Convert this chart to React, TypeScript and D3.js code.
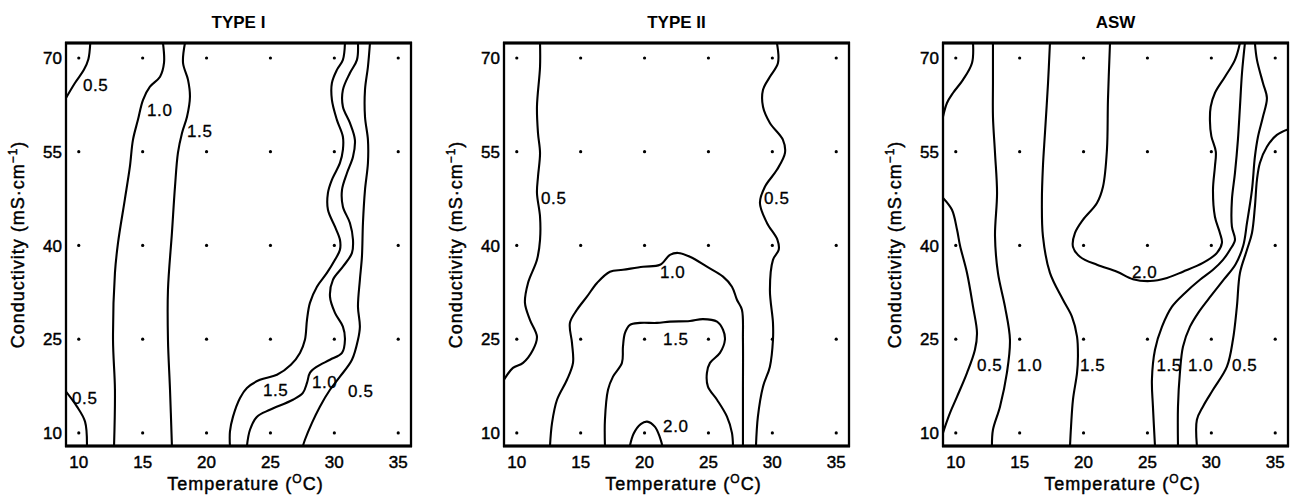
import React from 'react';
import * as d3 from 'd3';

type Pt = [number, number];
type Label = [string, number, number];

// Sampling grid (temperature °C × conductivity mS·cm⁻¹)
const temps = [10, 15, 20, 25, 30, 35];
const conds = [10, 25, 40, 55, 70];
const tempTicks = [10, 15, 20, 25, 30, 35];
const condTicks = [10, 25, 40, 55, 70];
const titles = ['TYPE I', 'TYPE II', 'ASW'];

// ---- TYPE I isolines, [temperature, conductivity] ----
const t1Iso05TopLeft: Pt[] = [[10.9, 72.4], [10.75, 69.8], [10.4, 68.1], [9.7, 66.0], [9.0, 63.6]];
const t1Iso10Left: Pt[] = [[16.59, 72.4], [16.67, 69.2], [16.36, 67.0], [15.57, 65.4], [15.03, 63.3], [14.63, 60.1], [14.24, 56.9], [14.0, 52.6], [13.6, 47.3], [13.07, 40.4], [12.83, 35.6], [12.68, 24.9], [12.83, 16.9], [12.76, 7.9]];
const t1Iso15Left: Pt[] = [[18.31, 72.4], [18.16, 69.2], [18.55, 66.5], [18.7, 63.8], [18.47, 60.6], [18.08, 58.0], [17.76, 54.8], [17.53, 49.4], [17.29, 42.0], [16.98, 32.9], [16.98, 24.9], [17.14, 16.9], [17.29, 7.9]];
const t1Iso05BottomLeft: Pt[] = [[9.0, 16.6], [9.86, 14.2], [10.49, 11.8], [10.64, 7.9]];
const t1Iso15Right: Pt[] = [[30.83, 72.4], [30.67, 69.7], [30.2, 68.1], [29.81, 66.0], [29.81, 63.3], [30.2, 60.1], [30.67, 57.4], [30.67, 55.3], [30.44, 53.2], [29.81, 50.5], [29.5, 48.4], [29.5, 45.7], [30.05, 43.0], [30.44, 40.9], [30.44, 39.3], [30.05, 37.7], [29.42, 35.6], [28.64, 33.4], [28.09, 30.8], [27.86, 28.1], [27.7, 24.9], [27.31, 22.8], [26.6, 20.9], [25.51, 19.3], [24.18, 18.5], [23.16, 17.2], [22.62, 15.6], [22.07, 12.6], [21.83, 10.2], [21.83, 7.9]];
const t1Iso10Right: Pt[] = [[31.85, 72.4], [31.77, 69.7], [31.22, 67.6], [30.67, 64.9], [30.67, 62.2], [31.22, 59.6], [31.61, 56.9], [31.46, 54.2], [30.99, 51.6], [30.6, 48.9], [30.67, 46.2], [31.22, 43.6], [31.46, 40.9], [31.38, 38.8], [30.67, 36.6], [29.89, 34.5], [29.66, 31.8], [30.05, 29.2], [30.67, 27.0], [30.83, 24.9], [30.6, 22.8], [29.66, 21.7], [28.64, 20.6], [28.09, 19.6], [27.86, 18.0], [27.54, 16.4], [26.76, 15.3], [24.96, 13.7], [23.95, 12.6], [23.4, 10.5], [23.16, 7.9]];
const t1Iso05Right: Pt[] = [[32.79, 72.4], [32.63, 68.6], [32.4, 64.9], [32.4, 60.6], [32.63, 56.9], [32.63, 53.2], [32.4, 48.9], [32.24, 43.6], [32.16, 38.2], [32.0, 34.5], [31.85, 30.2], [32.0, 27.0], [31.85, 24.9], [31.38, 21.7], [30.44, 19.0], [29.66, 16.9], [28.87, 14.2], [28.25, 11.6], [27.7, 8.9], [27.54, 7.9]];
const t1Labels: Label[] = [['0.5', 10.33, 65.7], ['1.0', 15.34, 61.7], ['1.5', 18.47, 58.3], ['0.5', 9.47, 15.6], ['1.5', 24.41, 16.9], ['1.0', 28.25, 18.2], ['0.5', 31.07, 16.7]];

// ---- TYPE II isolines ----
const t2Iso05Left: Pt[] = [[11.82, 72.4], [11.82, 68.6], [11.58, 62.2], [11.66, 58.0], [11.82, 54.8], [11.66, 51.0], [11.58, 48.4], [11.82, 44.6], [11.82, 40.9], [11.58, 37.7], [10.88, 34.0], [10.64, 30.8], [11.03, 28.1], [11.58, 25.4], [11.27, 23.3], [10.49, 21.2], [9.7, 20.4], [9.0, 18.5]];
const t2Iso05Right: Pt[] = [[30.36, 72.4], [30.44, 69.2], [29.81, 67.0], [29.27, 64.9], [29.27, 62.2], [29.81, 59.6], [30.83, 56.9], [30.99, 54.8], [30.36, 52.1], [29.42, 49.4], [29.03, 46.8], [29.58, 43.6], [30.4, 40.9], [30.5, 39.3], [30.05, 37.7], [29.81, 32.9], [30.05, 27.6], [30.05, 24.9], [29.81, 20.6], [29.27, 17.4], [28.87, 12.6], [28.72, 7.9]];
const t2Iso10: Pt[] = [[12.6, 7.9], [12.76, 11.6], [13.15, 15.3], [13.93, 18.5], [14.4, 21.2], [14.32, 24.4], [14.16, 27.6], [14.71, 29.7], [15.49, 31.8], [16.28, 34.0], [17.29, 35.8], [18.31, 36.1], [19.88, 36.6], [21.21, 36.9], [21.99, 38.5], [22.62, 38.8], [23.55, 38.2], [24.88, 36.6], [26.14, 35.0], [26.84, 33.4], [27.23, 31.3], [27.62, 29.7], [27.7, 24.9], [27.7, 16.9], [27.7, 7.9]];
const t2Iso15: Pt[] = [[16.9, 7.9], [16.9, 12.1], [17.14, 16.9], [17.53, 19.0], [18.23, 21.2], [18.31, 23.8], [18.47, 26.0], [18.86, 27.3], [19.64, 27.6], [20.97, 27.6], [21.99, 27.8], [23.55, 27.9], [24.57, 28.2], [25.67, 27.8], [26.14, 26.5], [26.29, 24.9], [25.9, 22.8], [25.12, 21.2], [24.88, 19.6], [24.96, 17.4], [25.67, 15.3], [26.45, 12.6], [26.84, 10.0], [26.92, 7.9]];
const t2Iso20: Pt[] = [[18.85, 7.9], [19.15, 9.9], [19.7, 11.4], [20.2, 11.8], [20.8, 11.0], [21.2, 9.3], [21.4, 7.9]];
const t2Labels: Label[] = [['0.5', 11.9, 47.6], ['0.5', 29.35, 47.6], ['1.0', 21.2, 35.8], ['1.5', 21.45, 25.0], ['2.0', 21.45, 11.1]];

// ---- ASW isolines ----
const aswIso05TopLeft: Pt[] = [[11.35, 72.4], [11.27, 69.2], [10.56, 66.5], [9.78, 64.4], [9.31, 62.8], [9.0, 60.6]];
const aswIso05Left: Pt[] = [[9.0, 47.6], [9.7, 45.7], [10.1, 42.5], [10.33, 40.0], [10.88, 35.6], [11.35, 30.2], [11.66, 26.0], [11.5, 23.3], [10.88, 19.6], [10.1, 15.8], [9.55, 13.2], [9.16, 11.0], [9.0, 10.0]];
const aswIso10Left: Pt[] = [[12.91, 72.4], [12.91, 66.0], [12.91, 60.6], [13.07, 54.8], [13.23, 48.4], [13.07, 41.5], [13.3, 35.6], [13.85, 30.2], [14.24, 24.9], [14.0, 19.6], [13.46, 14.2], [12.91, 10.5], [12.83, 7.9]];
const aswIso15Left: Pt[] = [[17.37, 72.4], [17.22, 66.0], [16.98, 58.0], [16.82, 52.6], [16.74, 47.3], [16.82, 41.5], [17.37, 35.6], [18.39, 31.3], [19.09, 28.6], [19.49, 25.4], [19.56, 22.2], [19.49, 19.6], [19.17, 15.3], [19.02, 11.0], [18.94, 7.9]];
const aswIso20: Pt[] = [[22.07, 72.4], [21.91, 63.3], [21.83, 55.3], [21.52, 49.4], [21.05, 46.8], [19.95, 44.1], [19.33, 42.0], [19.17, 39.8], [19.72, 38.2], [21.05, 36.9], [22.62, 35.8], [23.87, 34.6], [25.2, 34.3], [26.53, 34.8], [27.78, 35.8], [29.34, 37.2], [30.44, 38.8], [30.83, 40.4], [30.67, 42.0], [30.28, 44.6], [30.13, 48.9], [30.28, 52.6], [30.35, 55.0], [30.0, 57.5], [29.89, 60.0], [29.95, 62.2], [30.28, 64.4], [31.07, 67.0], [31.85, 69.7], [32.24, 72.4]];
const aswIso15Right: Pt[] = [[32.63, 72.4], [32.4, 67.6], [32.24, 62.2], [32.08, 56.9], [31.85, 51.6], [31.61, 47.3], [31.61, 43.0], [31.85, 40.9], [31.46, 39.3], [30.91, 37.7], [30.13, 36.1], [29.11, 34.5], [27.94, 32.4], [26.92, 30.2], [26.14, 27.0], [25.59, 23.3], [25.35, 18.5], [25.43, 14.2], [25.59, 7.9]];
const aswIso10Right: Pt[] = [[33.41, 72.4], [33.57, 69.7], [34.04, 66.0], [34.35, 63.6], [34.04, 60.6], [33.65, 57.4], [33.41, 54.2], [33.18, 48.9], [32.79, 43.6], [32.5, 40.0], [31.9, 37.0], [31.0, 34.6], [30.0, 32.0], [29.0, 29.3], [28.33, 27.0], [27.78, 23.8], [27.54, 19.6], [27.39, 14.2], [27.39, 7.9]];
const aswIso05Right: Pt[] = [[36.3, 58.8], [35.13, 57.7], [34.35, 55.8], [33.8, 53.2], [33.57, 50.5], [33.41, 46.2], [33.18, 42.0], [32.79, 39.3], [32.24, 35.6], [32.0, 30.2], [31.69, 24.9], [31.22, 20.6], [30.13, 16.9], [29.34, 14.2], [28.87, 12.1], [28.87, 7.9]];
const aswLabels: Label[] = [['0.5', 11.66, 20.9], ['1.0', 14.79, 20.9], ['1.5', 19.72, 20.9], ['1.5', 25.7, 20.9], ['1.0', 28.17, 20.9], ['0.5', 31.61, 20.9], ['2.0', 23.79, 35.8]];

const panels = [
  { title: titles[0], lines: [t1Iso05TopLeft, t1Iso10Left, t1Iso15Left, t1Iso05BottomLeft, t1Iso15Right, t1Iso10Right, t1Iso05Right], labels: t1Labels },
  { title: titles[1], lines: [t2Iso05Left, t2Iso05Right, t2Iso10, t2Iso15, t2Iso20], labels: t2Labels },
  { title: titles[2], lines: [aswIso05TopLeft, aswIso05Left, aswIso10Left, aswIso15Left, aswIso20, aswIso15Right, aswIso10Right, aswIso05Right], labels: aswLabels },
];

const PANEL_LEFT = [66, 504, 943];
const PANEL_W = 345;
const TOP = 43;
const BOTTOM = 446;
const FONT = "'Liberation Sans', Arial, Helvetica, sans-serif";

// slight outline so the glyphs carry the weight of the printed labels
const heavy = { stroke: '#000', strokeWidth: 0.45 };

function Panel({ idx, left, title, lines, labels }: { idx: number; left: number; title: string; lines: Pt[][]; labels: Label[] }) {
  const x = d3.scaleLinear().domain([9, 36]).range([left, left + PANEL_W]);
  const y = d3.scaleLinear().domain([7.9, 72.4]).range([BOTTOM, TOP]);
  const line = d3
    .line<Pt>()
    .x((d) => x(d[0]))
    .y((d) => y(d[1]))
    .curve(d3.curveCatmullRom.alpha(0.5));
  const cx = left + PANEL_W / 2;
  const clipId = `plot-clip-${idx}`;
  return (
    <g>
      <defs>
        <clipPath id={clipId}>
          <rect x={left} y={TOP} width={PANEL_W} height={BOTTOM - TOP} />
        </clipPath>
      </defs>
      <text x={cx} y={28} textAnchor="middle" fontSize={17} fontWeight="bold">
        {title}
      </text>
      <g clipPath={`url(#${clipId})`}>
        {lines.map((pts, k) => (
          <path key={k} d={line(pts) || ''} fill="none" stroke="#000" strokeWidth={2.1} strokeLinejoin="round" strokeLinecap="round" />
        ))}
      </g>
      {temps.map((t) =>
        conds.map((c) => <circle key={`${t}-${c}`} cx={x(t)} cy={y(c)} r={1.6} fill="#000" />)
      )}
      {labels.map(([txt, t, c], k) => (
        <text key={k} x={x(t)} y={y(c)} dy="0.36em" fontSize={17} letterSpacing={0.6} {...heavy} strokeWidth={0.3}>
          {txt}
        </text>
      ))}
      <rect x={left} y={TOP} width={PANEL_W} height={BOTTOM - TOP} fill="none" stroke="#000" strokeWidth={2.3} />
      <line x1={left - 1} x2={left + PANEL_W + 1} y1={TOP} y2={TOP} stroke="#000" strokeWidth={3} />
      <line x1={left - 1} x2={left + PANEL_W + 1} y1={BOTTOM} y2={BOTTOM} stroke="#000" strokeWidth={3} />
      {condTicks.map((c) => (
        <text key={c} x={left - 4} y={y(c)} dy="0.36em" textAnchor="end" fontSize={17} {...heavy}>
          {c}
        </text>
      ))}
      {tempTicks.map((t) => (
        <text key={t} x={x(t)} y={468} textAnchor="middle" fontSize={17} {...heavy}>
          {t}
        </text>
      ))}
      <text x={cx + 7} y={490} textAnchor="middle" fontSize={18} letterSpacing={1} {...heavy}>
        Temperature (
        <tspan dy={-7} fontSize={12}>
          O
        </tspan>
        <tspan dy={7}>C)</tspan>
      </text>
      <text transform={`translate(${left - 42},${(TOP + BOTTOM) / 2}) rotate(-90)`} textAnchor="middle" fontSize={18} letterSpacing={1} {...heavy}>
        Conductivity (mS·cm
        <tspan dy={-7} fontSize={12}>
          −1
        </tspan>
        <tspan dy={7}>)</tspan>
      </text>
    </g>
  );
}

export default function App() {
  return (
    <svg
      width={1291}
      height={495}
      viewBox="0 0 1291 495"
      style={{ position: 'absolute', left: 0, top: 0, display: 'block', background: '#fff' }}
      fontFamily={FONT}
      fill="#000"
    >
      <rect width={1291} height={495} fill="#fff" />
      {panels.map((p, i) => (
        <Panel key={i} idx={i} left={PANEL_LEFT[i]} title={p.title} lines={p.lines} labels={p.labels} />
      ))}
    </svg>
  );
}
